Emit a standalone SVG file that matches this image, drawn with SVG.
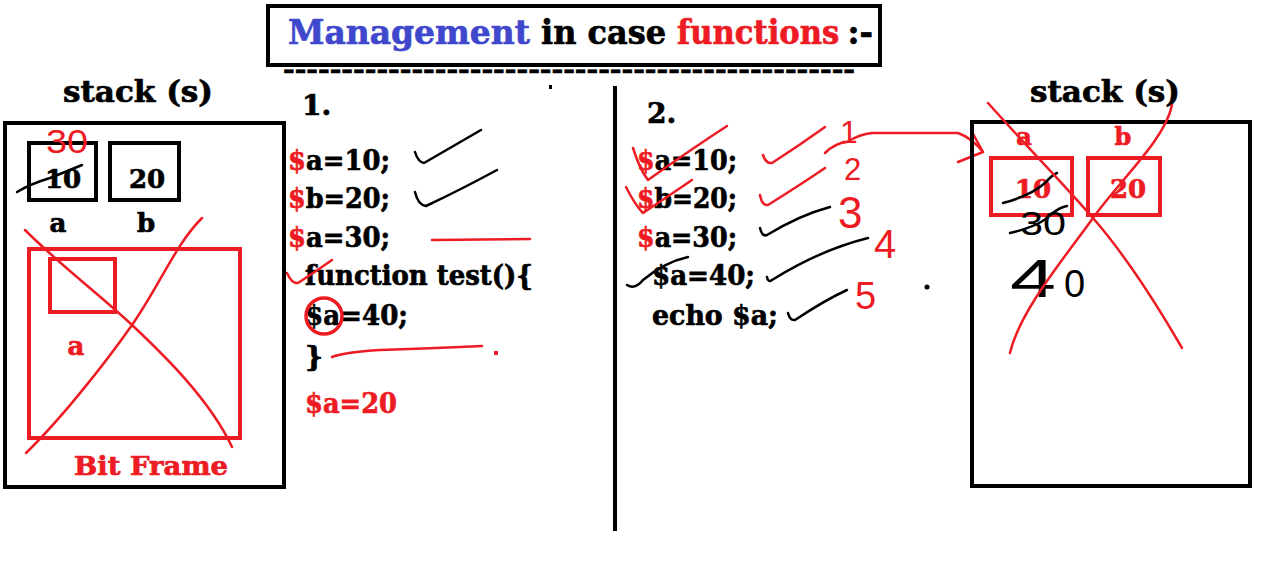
<svg xmlns="http://www.w3.org/2000/svg" width="1275" height="582" viewBox="0 0 1275 582">
<style>
.t{font-family:"DejaVu Serif","Liberation Serif",serif;font-weight:bold;fill:#000;stroke:#000;stroke-width:0.7}
.r{fill:#ed1c24;stroke:#ed1c24}
.b{fill:#3f48cc;stroke:#3f48cc}
.h{font-family:"Liberation Sans","DejaVu Sans",sans-serif;font-weight:normal;stroke:none}
.box{fill:none;stroke:#000;stroke-width:4}
.rbox{fill:none;stroke:#ed1c24;stroke-width:4}
.ink{fill:none;stroke:#000;stroke-width:2.5;stroke-linecap:round;stroke-linejoin:round}
.rink{fill:none;stroke:#ed1c24;stroke-width:2.5;stroke-linecap:round;stroke-linejoin:round}
</style>
<rect width="1275" height="582" fill="#fff"/>

<g id="title">
<rect x="268" y="6" width="612" height="59" class="box" stroke-width="5"/>
<text class="t" transform="scale(0.85,1)" x="338.8" y="44" font-size="34"><tspan class="b" textLength="284.7" lengthAdjust="spacingAndGlyphs">Management</tspan><tspan x="636.5" textLength="147" lengthAdjust="spacingAndGlyphs">in case</tspan><tspan x="796.5" class="r" textLength="191" lengthAdjust="spacingAndGlyphs">functions</tspan><tspan x="997" textLength="30" lengthAdjust="spacingAndGlyphs">:-</tspan></text>
<text class="t" x="283" y="78" font-size="24" stroke-width="1.2" textLength="572" lengthAdjust="spacingAndGlyphs">-------------------------------------------------</text>
<rect x="549" y="85" width="3" height="4" fill="#000"/>
</g>

<g id="left-stack">
<text class="t" x="63" y="102" font-size="30" textLength="150" lengthAdjust="spacingAndGlyphs">stack (s)</text>
<rect x="5" y="123" width="279" height="364" class="box"/>
<rect x="29" y="143" width="67" height="57" class="box"/>
<rect x="110" y="143" width="69" height="57" class="box"/>
<text class="t" x="63" y="188" font-size="26" text-anchor="middle">10</text>
<text class="t" x="147" y="188" font-size="26" text-anchor="middle">20</text>
<path class="ink" d="M17,192 Q30,184 50,178 Q70,170 82,165"/>
<text class="h r" x="46" y="153" font-size="34" textLength="42" lengthAdjust="spacingAndGlyphs">30</text>
<text class="t" x="58" y="232" font-size="26" text-anchor="middle">a</text>
<text class="t" x="146" y="232" font-size="26" text-anchor="middle">b</text>
<rect x="29" y="249" width="211" height="189" class="rbox"/>
<rect x="50" y="259" width="65" height="53" class="rbox"/>
<text class="t r" x="76" y="355" font-size="26" text-anchor="middle">a</text>
<text class="t r" x="151" y="475" font-size="26" text-anchor="middle" textLength="154" lengthAdjust="spacingAndGlyphs">Bit Frame</text>
<path class="rink" d="M25,230 C60,265 100,295 132,325 S210,400 232,447"/>
<path class="rink" d="M202,218 C175,245 160,285 132,325 S60,420 26,453"/>
</g>

<g id="code-1">
<text class="t" x="302" y="115" font-size="28">1.</text>
<text class="t" x="288" y="170" font-size="28" textLength="102" lengthAdjust="spacingAndGlyphs"><tspan class="r">$</tspan>a=10;</text>
<text class="t" x="288" y="208" font-size="28" textLength="102" lengthAdjust="spacingAndGlyphs"><tspan class="r">$</tspan>b=20;</text>
<text class="t" x="288" y="247" font-size="28" textLength="102" lengthAdjust="spacingAndGlyphs"><tspan class="r">$</tspan>a=30;</text>
<text class="t" x="305" y="285" font-size="28" textLength="228" lengthAdjust="spacingAndGlyphs">function test(){</text>
<text class="t" x="305" y="325" font-size="28" textLength="103" lengthAdjust="spacingAndGlyphs">$a=40;</text>
<text class="t" x="305" y="366" font-size="28">}</text>
<text class="t r" x="305" y="413" font-size="28" textLength="92" lengthAdjust="spacingAndGlyphs">$a=20</text>
<circle cx="324" cy="316" r="18" fill="none" stroke="#ed1c24" stroke-width="3.5"/>
<path class="ink" d="M415,152 Q418,162 424,163 Q450,148 481,130"/>
<path class="ink" d="M415,192 Q418,205 426,206 Q460,190 497,170"/>
<path class="rink" d="M432,240 L530,239"/>
<path class="rink" d="M287,273 Q292,284 298,283 Q315,272 332,260"/>
<path class="rink" d="M332,357 Q345,352 380,350 Q440,348 482,346"/>
<rect x="494" y="351" width="4" height="4" fill="#ed1c24"/>
</g>

<g id="divider">
<line x1="615" y1="86" x2="615" y2="531" stroke="#000" stroke-width="4"/>
</g>

<g id="code-2">
<text class="t" x="647" y="123" font-size="28">2.</text>
<text class="t" x="637" y="170" font-size="28" textLength="100" lengthAdjust="spacingAndGlyphs"><tspan class="r">$</tspan>a=10;</text>
<text class="t" x="637" y="208" font-size="28" textLength="100" lengthAdjust="spacingAndGlyphs"><tspan class="r">$</tspan>b=20;</text>
<text class="t" x="637" y="247" font-size="28" textLength="100" lengthAdjust="spacingAndGlyphs"><tspan class="r">$</tspan>a=30;</text>
<text class="t" x="652" y="285" font-size="28" textLength="103" lengthAdjust="spacingAndGlyphs">$a=40;</text>
<text class="t" x="652" y="325" font-size="28" textLength="126" lengthAdjust="spacingAndGlyphs">echo $a;</text>
<path class="rink" d="M633,148 Q640,170 648,180 Q690,150 727,126"/>
<path class="rink" d="M626,187 Q635,205 643,213 Q670,195 692,180"/>
<path class="rink" d="M763,155 Q766,164 772,163 Q800,145 825,127"/>
<path class="rink" d="M760,195 Q762,206 768,205 Q800,185 825,168"/>
<path class="ink" d="M760,228 Q762,237 767,235 Q800,215 830,207"/>
<path class="ink" d="M767,277 Q768,283 772,280 Q820,250 868,238"/>
<path class="ink" d="M788,313 Q790,321 795,320 Q825,300 847,290"/>
<path class="ink" d="M627,285 Q635,290 643,280 Q665,262 688,257"/>
<text class="h r" x="840" y="143" font-size="32">1</text>
<text class="h r" x="844" y="180" font-size="31">2</text>
<text class="h r" x="838" y="228" font-size="44">3</text>
<text class="h r" x="874" y="258" font-size="40">4</text>
<text class="h r" x="855" y="309" font-size="38">5</text>
<circle cx="927" cy="287" r="2.5" fill="#000"/>
</g>

<g id="connectors">
<path class="rink" d="M825,153 Q835,143 847,142 Q860,134 872,133 L958,133 Q972,138 983,152"/>
<path class="rink" d="M972,132 L983,152 L958,162"/>
</g>

<g id="right-stack">
<text class="t" x="1030" y="102" font-size="30" textLength="150" lengthAdjust="spacingAndGlyphs">stack (s)</text>
<rect x="972" y="122" width="278" height="364" class="box"/>
<text class="t r" x="1024" y="145" font-size="24" text-anchor="middle">a</text>
<text class="t r" x="1123" y="145" font-size="24" text-anchor="middle">b</text>
<rect x="991" y="158" width="81" height="57" class="rbox"/>
<rect x="1088" y="158" width="72" height="57" class="rbox"/>
<text class="t r" x="1033" y="198" font-size="26" text-anchor="middle">10</text>
<text class="t r" x="1128" y="198" font-size="26" text-anchor="middle">20</text>
<path class="ink" d="M1003,203 Q1030,196 1045,183 Q1052,175 1057,173"/>
<text class="h" x="1020" y="235" font-size="34" textLength="46" lengthAdjust="spacingAndGlyphs">30</text>
<path class="ink" d="M1010,233 Q1040,226 1050,215 Q1060,207 1067,206"/>
<text class="h" x="1010" y="297"><tspan font-size="54" textLength="46" lengthAdjust="spacingAndGlyphs">4</tspan><tspan x="1064" font-size="38">0</tspan></text>
<path class="rink" d="M988,103 C1030,150 1060,180 1093,218 S1160,310 1182,348"/>
<path class="rink" d="M1172,105 C1165,140 1120,180 1093,218 S1020,310 1010,353"/>
</g>
</svg>
